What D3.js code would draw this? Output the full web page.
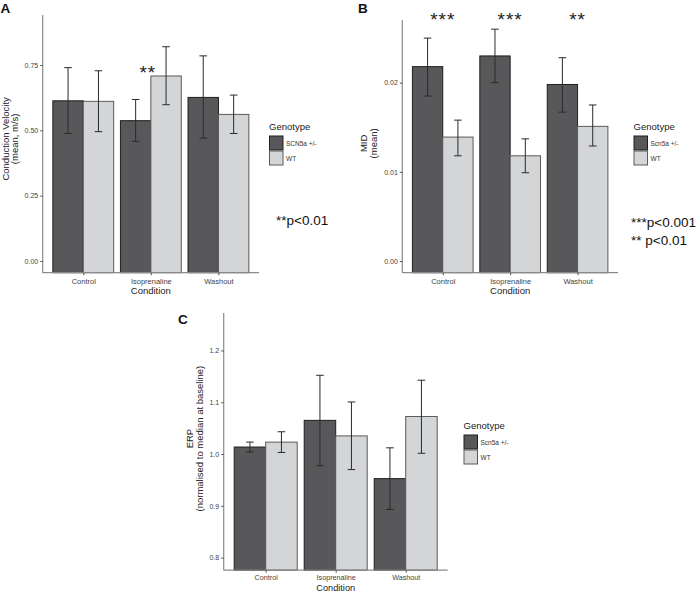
<!DOCTYPE html>
<html><head><meta charset="utf-8">
<script src="https://cdn.jsdelivr.net/npm/d3@7"></script>
<style>
body{margin:0;background:#fff;}
svg{display:block;}
text{font-family:"Liberation Sans",Arial,Helvetica,sans-serif;}
</style></head><body>
<svg id="chart" width="700" height="593"></svg>
<script>
const conditions = ["Control","Isoprenaline","Washout"];
const genotypesA = ["SCN5a +/-","WT"];
const genotypesBC = ["Scn5a +/-","WT"];

// Panel A: Conduction velocity (mean, m/s)
const cvMut  = [0.613, 0.537, 0.626];
const cvMutLo= [0.488, 0.458, 0.470];
const cvMutHi= [0.740, 0.618, 0.785];
const cvWT   = [0.611, 0.708, 0.561];
const cvWTLo = [0.495, 0.598, 0.488];
const cvWTHi = [0.728, 0.820, 0.635];
const ticksA = [0, 0.25, 0.50, 0.75];

// Panel B: MID (mean)
const midMut  = [0.0218, 0.0230, 0.0198];
const midMutLo= [0.0185, 0.0200, 0.0167];
const midMutHi= [0.0250, 0.0260, 0.0228];
const midWT   = [0.0139, 0.0118, 0.0151];
const midWTLo = [0.0118, 0.0099, 0.0129];
const midWTHi = [0.0158, 0.0137, 0.0175];
const ticksB = [0, 0.01, 0.02];

// Panel C: ERP (normalised to median at baseline)
const erpMut  = [1.0135, 1.065, 0.9525];
const erpMutLo= [1.004, 0.9775, 0.893];
const erpMutHi= [1.023, 1.152, 1.012];
const erpWT   = [1.023, 1.035, 1.0725];
const erpWTLo = [1.003, 0.970, 1.0015];
const erpWTHi = [1.043, 1.1005, 1.1425];
const ticksC = [0.8, 0.9, 1.0, 1.1, 1.2];

const colDark = "#58585a", colLight = "#d4d5d7";
const svg = d3.select("#chart");

function panel(cfg){
  const g = svg.append("g");
  const x = d3.scalePoint().domain(conditions).range([cfg.x0, cfg.x1]).padding(0.6);
  const step = x.step();
  const bw = step*0.45;
  const y = d3.scaleLinear().domain(cfg.ydom).range([cfg.y1, cfg.y0]);
  const series = [
    {v:cfg.mut, lo:cfg.mutLo, hi:cfg.mutHi, fill:colDark, stroke:"#1e1e1e", off:-1},
    {v:cfg.wt,  lo:cfg.wtLo,  hi:cfg.wtHi,  fill:colLight, stroke:"#5a5a5a", off:0}
  ];
  const base = cfg.base;
  series.forEach(s=>{
    conditions.forEach((c,i)=>{
      const bx = x(c) + s.off*bw;
      const yb = base==null ? cfg.y1 : y(base);
      g.append("rect").attr("x",bx).attr("width",bw)
        .attr("y",y(s.v[i])).attr("height",yb - y(s.v[i]))
        .attr("fill",s.fill).attr("stroke",s.stroke).attr("stroke-width",1);
    });
  });
  series.forEach(s=>{
    conditions.forEach((c,i)=>{
      const cx = x(c) + s.off*bw + bw/2;
      const cw = 3.8;
      const eg = g.append("g").attr("stroke","#2a2a2a").attr("stroke-width",1);
      eg.append("line").attr("x1",cx).attr("x2",cx).attr("y1",y(s.lo[i])).attr("y2",y(s.hi[i]));
      eg.append("line").attr("x1",cx-cw).attr("x2",cx+cw).attr("y1",y(s.lo[i])).attr("y2",y(s.lo[i]));
      eg.append("line").attr("x1",cx-cw).attr("x2",cx+cw).attr("y1",y(s.hi[i])).attr("y2",y(s.hi[i]));
    });
  });
  // axes
  const ya = g.append("g").attr("transform",`translate(${cfg.x0},0)`)
    .call(d3.axisLeft(y).tickValues(cfg.ticks).tickFormat(cfg.fmt).tickSize(2.5).tickPadding(2));
  ya.select(".domain").attr("d",`M0,${cfg.y0}V${cfg.y1}`).attr("stroke","#8a8a8a").attr("stroke-width",1.2);
  ya.selectAll(".tick line").attr("stroke","#555");
  ya.selectAll(".tick text").attr("font-size",7).attr("fill","#444");
  const xa = g.append("g").attr("transform",`translate(0,${cfg.y1})`)
    .call(d3.axisBottom(x).tickSize(2.5).tickPadding(cfg.xPad||3));
  xa.select(".domain").attr("d",`M${cfg.x0},0H${cfg.x1}`).attr("stroke","#8a8a8a").attr("stroke-width",1.2);
  xa.selectAll(".tick line").attr("stroke","#555");
  xa.selectAll(".tick text").attr("font-size",cfg.xFs||7.5).attr("fill","#444");
  // titles
  const xc = (cfg.x0+cfg.x1)/2, yc=(cfg.y0+cfg.y1)/2 + (cfg.ycOff||0);
  g.append("text").attr("x",xc).attr("y",cfg.y1+(cfg.xtOff||21)).attr("text-anchor","middle")
    .attr("font-size",cfg.xtFs||9.5).attr("fill","#222").text("Condition");
  const yt = g.append("text").attr("transform",`translate(${cfg.ytx},${yc}) rotate(-90)`)
    .attr("text-anchor","middle").attr("font-size",9.5).attr("fill","#222");
  yt.append("tspan").attr("x",0).attr("dy",0).text(cfg.ytitle[0]);
  yt.append("tspan").attr("x",0).attr("dy",cfg.ydy).text(cfg.ytitle[1]);
  // legend
  const lg = g.append("g").attr("transform",`translate(${cfg.lx},${cfg.ly})`);
  lg.append("text").attr("x",0).attr("y",0).attr("font-size",9.5).attr("fill","#222").text("Genotype");
  cfg.gen.forEach((gn,i)=>{
    lg.append("rect").attr("x",0.5).attr("y",6+i*15).attr("width",13.5).attr("height",14)
      .attr("fill",series[i].fill).attr("stroke",series[i].stroke).attr("stroke-width",1);
    lg.append("text").attr("x",17).attr("y",16+i*15).attr("font-size",6.5).attr("fill","#333").text(gn);
  });
  // panel letter
  svg.append("text").attr("x",cfg.letter[0]).attr("y",cfg.letter[1]).attr("font-size",13.5)
    .attr("font-weight","bold").attr("fill","#111").text(cfg.letter[2]);
  return {x,y,g,bw};
}

const fmt2 = d3.format(".2f");
const A = panel({x0:42.7,x1:259,y0:15,y1:272.7,ydom:[-0.0448,0.9414],ticks:ticksA,fmt:fmt2,
  mut:cvMut,mutLo:cvMutLo,mutHi:cvMutHi,wt:cvWT,wtLo:cvWTLo,wtHi:cvWTHi,
  ytitle:["Conduction Velocity","(mean, m/s)"],ytx:9.3,ydy:8.6,ycOff:-5,lx:269,ly:130,gen:genotypesA,letter:[0.5,13,"A"]});
const B = panel({x0:402.3,x1:618,y0:20,y1:272.7,ydom:[-0.00131,0.02703],ticks:ticksB,fmt:fmt2,
  mut:midMut,mutLo:midMutLo,mutHi:midMutHi,wt:midWT,wtLo:midWTLo,wtHi:midWTHi,
  ytitle:["MID","(mean)"],ytx:367,ydy:9.5,ycOff:-3,lx:633.5,ly:130,gen:genotypesBC,letter:[358,13,"B"]});
const C = panel({x0:223.7,x1:447.7,y0:313,y1:570.2,ydom:[0.7757,1.2723],ticks:ticksC,fmt:d3.format(".1f"),
  mut:erpMut,mutLo:erpMutLo,mutHi:erpMutHi,wt:erpWT,wtLo:erpWTLo,wtHi:erpWTHi,base:null,
  xtOff:20.6,xtFs:9.2,xPad:2,xFs:7.2,
  ytitle:["ERP","(normalised to median at baseline)"],ytx:193,ydy:9.8,ycOff:-3,lx:463.5,ly:429,gen:genotypesBC,letter:[178,324,"C"]});

// significance annotations
const starFont = "Lato, 'Open Sans', sans-serif";
svg.append("text").attr("x",A.x("Isoprenaline")-3).attr("y",79).attr("text-anchor","middle")
  .attr("font-family",starFont).attr("font-size",19).attr("letter-spacing",1).attr("fill","#222").text("**");
[["Control","***"],["Isoprenaline","***"],["Washout","**"]].forEach(([c,s])=>{
  svg.append("text").attr("x",B.x(c)).attr("y",26).attr("text-anchor","middle")
    .attr("font-family",starFont).attr("font-size",19).attr("letter-spacing",1).attr("fill","#222").text(s);
});
svg.append("text").attr("x",276).attr("y",225).attr("font-family",starFont).attr("font-size",13.5).attr("fill","#111").text("**p<0.01");
svg.append("text").attr("x",631).attr("y",227).attr("font-family",starFont).attr("font-size",13.5).attr("fill","#111").text("***p<0.001");
svg.append("text").attr("x",631).attr("y",245).attr("font-family",starFont).attr("font-size",13.5).attr("fill","#111").text("** p<0.01");
</script>
</body></html>
